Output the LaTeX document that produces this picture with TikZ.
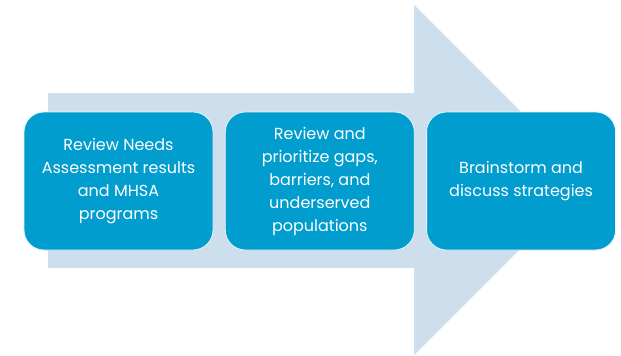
\documentclass[tikz,border=0pt]{standalone}
\usepackage{fontspec}
\setmainfont{Poppins}
\usetikzlibrary{positioning}

\definecolor{stepblue}{RGB}{0,157,206}
\definecolor{arrowblue}{RGB}{205,222,236}

\begin{document}
\begin{tikzpicture}[x=1pt, y=-1pt,
    stepbox/.style={rectangle, rounded corners=20pt, fill=stepblue,
        draw=white!90!stepblue, line width=0.8pt,
        minimum width=189pt, minimum height=138pt, inner sep=0pt,
        align=center, text=white, font=\fontsize{16}{23}\selectfont}]

    % Fixed frame of the page
    \useasboundingbox (0,0) rectangle (621,356);

    % Corners of the big arrow
    \coordinate (tailtop) at (48,93);
    \coordinate (tailbot) at (48,268);
    \coordinate (tip) at (589,180);

    % Drawing the arrow behind the steps
    \fill[arrowblue] (tailtop) -- (414,93) -- (414,5) -- (tip)
        -- (414,355) -- (414,268) -- (tailbot) -- cycle;

    % The three steps
    \node[stepbox] (review) at (118.5,181) {Review Needs\\Assessment results\\and MHSA\\programs};
    \node[stepbox, right=11.5pt of review] (gaps) {Review and\\prioritize gaps,\\barriers, and\\underserved\\populations};
    \node[stepbox, right=11.5pt of gaps] (brainstorm) {Brainstorm and\\discuss strategies};

\end{tikzpicture}
\end{document}
